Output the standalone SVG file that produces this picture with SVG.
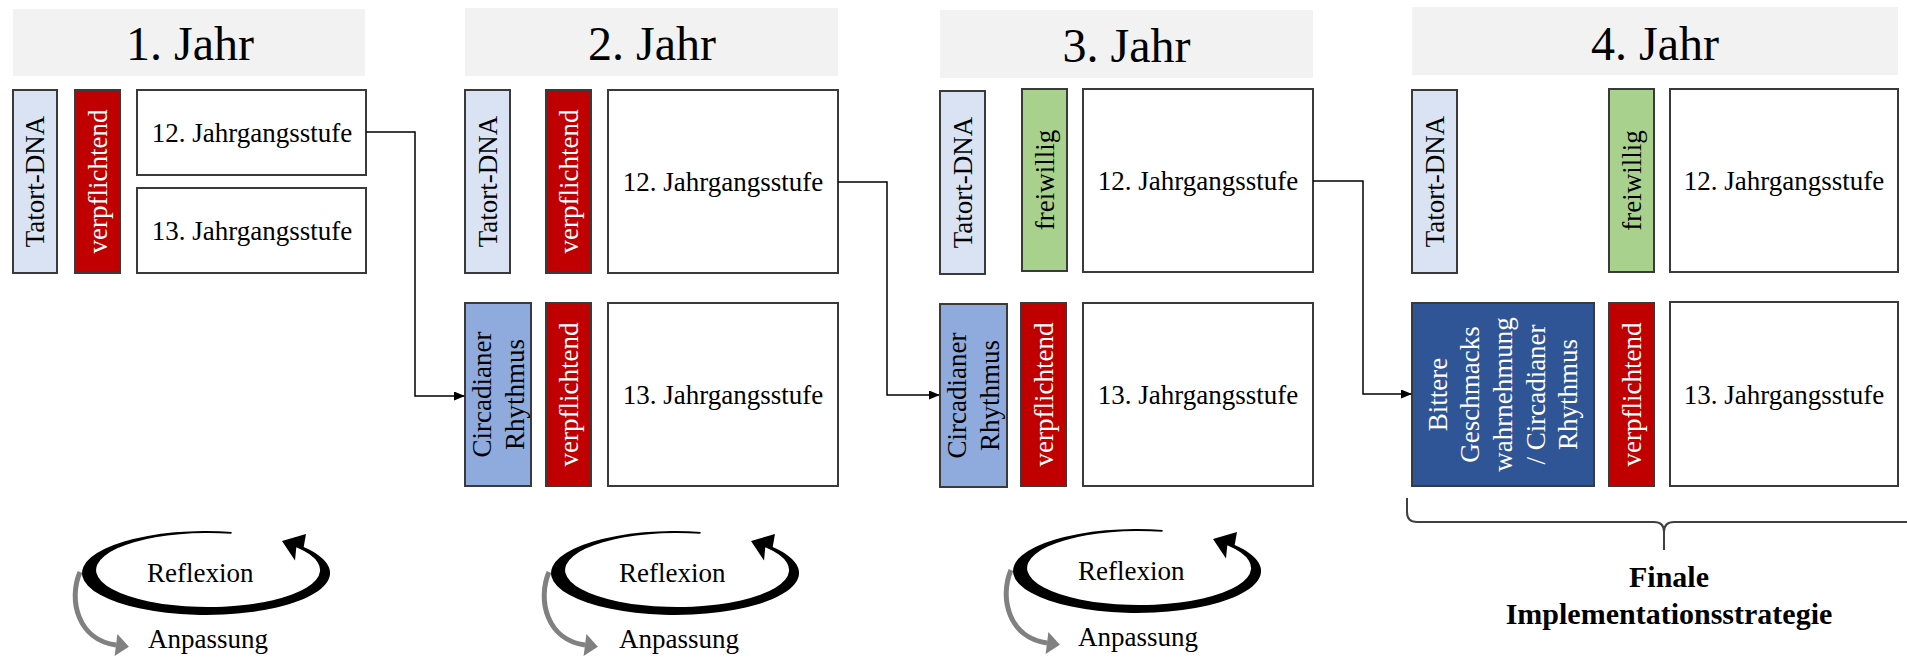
<svg xmlns="http://www.w3.org/2000/svg" xmlns:xlink="http://www.w3.org/1999/xlink" width="1907" height="659" viewBox="0 0 1907 659">
<style>
text{font-family:"Liberation Serif","Times New Roman",serif;}
.hdr{fill:#f2f2f2;}
.ht{font-size:48px;fill:#000;text-anchor:middle;}
.box{fill:#fff;stroke:#3a3a3a;stroke-width:2;}
.bt{font-size:27px;fill:#000;text-anchor:middle;}
.vt{font-size:27px;text-anchor:middle;}
.tat{fill:#dae3f3;stroke:#3a3a3a;stroke-width:2;}
.red{fill:#c00000;stroke:#3a3a3a;stroke-width:2;}
.grn{fill:#a9d18e;stroke:#3a3a3a;stroke-width:2;}
.cir{fill:#8faadc;stroke:#3a3a3a;stroke-width:2;}
.bit{fill:#2f5597;stroke:#3a3a3a;stroke-width:2;}
.dk{fill:#000;}
.wt{fill:#fff;}
.con{fill:none;stroke:#000;stroke-width:1.5;}
.ct{font-size:27px;fill:#000;}
.fin{font-size:30px;font-weight:bold;fill:#000;text-anchor:middle;}
</style>
<defs>
<marker id="ah" markerUnits="userSpaceOnUse" markerWidth="11" markerHeight="9" refX="10" refY="4.5" orient="auto">
<path d="M0,0 L11,4.5 L0,9 Z" fill="#000"/>
</marker>
<g id="cyc">
<path d="M 80 572 C 68 600, 78 640, 116 645" fill="none" stroke="#808080" stroke-width="5"/>
<polygon points="128.9,646.7 117.4,634.1 114.6,655.9" fill="#808080"/>
<path d="M 231.8 531.9 A 124 42 0 1 0 303.7 547.1 L 306 534 L 282 541 L 295 560.5 L 296.3 547.2 A 112 37 0 1 1 231.3 533.8 Z" fill="#000"/>
</g>
</defs>
<rect width="1907" height="659" fill="#fff"/>

<!-- Year 1 -->
<g id="year1-header"><rect class="hdr" x="13" y="9" width="352" height="67"/><text class="ht" x="190" y="60">1. Jahr</text></g>
<g id="y1-tatort"><rect class="tat" x="13" y="90" width="44" height="183"/><text class="vt dk" transform="translate(35,181.5) rotate(-90)" y="9">Tatort-DNA</text></g>
<g id="y1-verpflichtend"><rect class="red" x="75" y="90" width="45" height="183"/><text class="vt wt" transform="translate(97.5,181.5) rotate(-90)" y="9">verpflichtend</text></g>
<g id="y1-12"><rect class="box" x="137" y="90" width="229" height="85"/><text class="bt" x="252" y="142">12. Jahrgangsstufe</text></g>
<g id="y1-13"><rect class="box" x="137" y="188" width="229" height="85"/><text class="bt" x="252" y="240">13. Jahrgangsstufe</text></g>

<!-- Year 2 -->
<g id="year2-header"><rect class="hdr" x="465" y="8" width="373" height="68"/><text class="ht" x="652" y="60">2. Jahr</text></g>
<g id="y2-tatort"><rect class="tat" x="465" y="90" width="45" height="183"/><text class="vt dk" transform="translate(487.5,181.5) rotate(-90)" y="9">Tatort-DNA</text></g>
<g id="y2-verpflichtend1"><rect class="red" x="546" y="90" width="45" height="183"/><text class="vt wt" transform="translate(568.5,181.5) rotate(-90)" y="9">verpflichtend</text></g>
<g id="y2-12"><rect class="box" x="608" y="90" width="230" height="183"/><text class="bt" x="723" y="191">12. Jahrgangsstufe</text></g>
<g id="y2-circadian"><rect class="cir" x="465" y="303" width="66" height="183"/><text class="vt dk" transform="translate(498,394.5) rotate(-90)"><tspan x="0" y="-7.5">Circadianer</tspan><tspan x="0" y="25.5">Rhythmus</tspan></text></g>
<g id="y2-verpflichtend2"><rect class="red" x="546" y="303" width="45" height="183"/><text class="vt wt" transform="translate(568.5,394.5) rotate(-90)" y="9">verpflichtend</text></g>
<g id="y2-13"><rect class="box" x="608" y="303" width="230" height="183"/><text class="bt" x="723" y="404">13. Jahrgangsstufe</text></g>

<!-- Year 3 -->
<g id="year3-header"><rect class="hdr" x="940" y="10" width="373" height="68"/><text class="ht" x="1126.5" y="62">3. Jahr</text></g>
<g id="y3-tatort"><rect class="tat" x="940" y="91" width="45" height="183"/><text class="vt dk" transform="translate(962.5,182.5) rotate(-90)" y="9">Tatort-DNA</text></g>
<g id="y3-freiwillig"><rect class="grn" x="1022" y="89" width="45" height="182"/><text class="vt dk" transform="translate(1044.5,180) rotate(-90)" y="9">freiwillig</text></g>
<g id="y3-12"><rect class="box" x="1083" y="89" width="230" height="183"/><text class="bt" x="1198" y="190">12. Jahrgangsstufe</text></g>
<g id="y3-circadian"><rect class="cir" x="940" y="304" width="67" height="183"/><text class="vt dk" transform="translate(973.5,395.5) rotate(-90)"><tspan x="0" y="-7.5">Circadianer</tspan><tspan x="0" y="25.5">Rhythmus</tspan></text></g>
<g id="y3-verpflichtend"><rect class="red" x="1021" y="303" width="45" height="183"/><text class="vt wt" transform="translate(1043.5,394.5) rotate(-90)" y="9">verpflichtend</text></g>
<g id="y3-13"><rect class="box" x="1083" y="303" width="230" height="183"/><text class="bt" x="1198" y="404">13. Jahrgangsstufe</text></g>

<!-- Year 4 -->
<g id="year4-header"><rect class="hdr" x="1412" y="7" width="486" height="68"/><text class="ht" x="1655" y="60">4. Jahr</text></g>
<g id="y4-tatort"><rect class="tat" x="1412" y="90" width="45" height="183"/><text class="vt dk" transform="translate(1434.5,181.5) rotate(-90)" y="9">Tatort-DNA</text></g>
<g id="y4-freiwillig"><rect class="grn" x="1609" y="89" width="45" height="183"/><text class="vt dk" transform="translate(1631.5,180.5) rotate(-90)" y="9">freiwillig</text></g>
<g id="y4-12"><rect class="box" x="1670" y="89" width="228" height="183"/><text class="bt" x="1784" y="190">12. Jahrgangsstufe</text></g>
<g id="y4-bittere"><rect class="bit" x="1412" y="303" width="182" height="183"/><text class="vt wt" transform="translate(1503,394.5) rotate(-90)"><tspan x="0" y="-56.2">Bittere</tspan><tspan x="0" y="-23.6">Geschmacks</tspan><tspan x="0" y="9">wahrnehmung</tspan><tspan x="0" y="41.6">/ Circadianer</tspan><tspan x="0" y="74.2">Rhythmus</tspan></text></g>
<g id="y4-verpflichtend"><rect class="red" x="1609" y="303" width="45" height="183"/><text class="vt wt" transform="translate(1631.5,394.5) rotate(-90)" y="9">verpflichtend</text></g>
<g id="y4-13"><rect class="box" x="1670" y="302" width="228" height="184"/><text class="bt" x="1784" y="404">13. Jahrgangsstufe</text></g>

<!-- Connectors -->
<g id="connectors">
<path class="con" d="M 366 132 H 415 V 396 H 464" marker-end="url(#ah)"/>
<path class="con" d="M 838 182 H 887 V 395 H 939" marker-end="url(#ah)"/>
<path class="con" d="M 1313 181 H 1363 V 394 H 1411" marker-end="url(#ah)"/>
</g>

<!-- Reflection cycles -->
<g id="cycle1"><use href="#cyc" xlink:href="#cyc"/><text class="ct" x="147" y="582">Reflexion</text><text class="ct" x="148" y="648">Anpassung</text></g>
<g id="cycle2"><use href="#cyc" xlink:href="#cyc" transform="translate(469,0)"/><text class="ct" x="619" y="582">Reflexion</text><text class="ct" x="619" y="648">Anpassung</text></g>
<g id="cycle3"><use href="#cyc" xlink:href="#cyc" transform="translate(931,-2)"/><text class="ct" x="1078" y="580">Reflexion</text><text class="ct" x="1078" y="646">Anpassung</text></g>

<!-- Final brace -->
<g id="final">
<path d="M 1407 498 V 512 Q 1407 522 1417 522 H 1654 Q 1664 522 1664 532 V 550 M 1664 532 Q 1664 522 1674 522 H 1907" fill="none" stroke="#404040" stroke-width="2"/>
<text class="fin" x="1669" y="587">Finale</text>
<text class="fin" x="1669" y="624">Implementationsstrategie</text>
</g>
</svg>
